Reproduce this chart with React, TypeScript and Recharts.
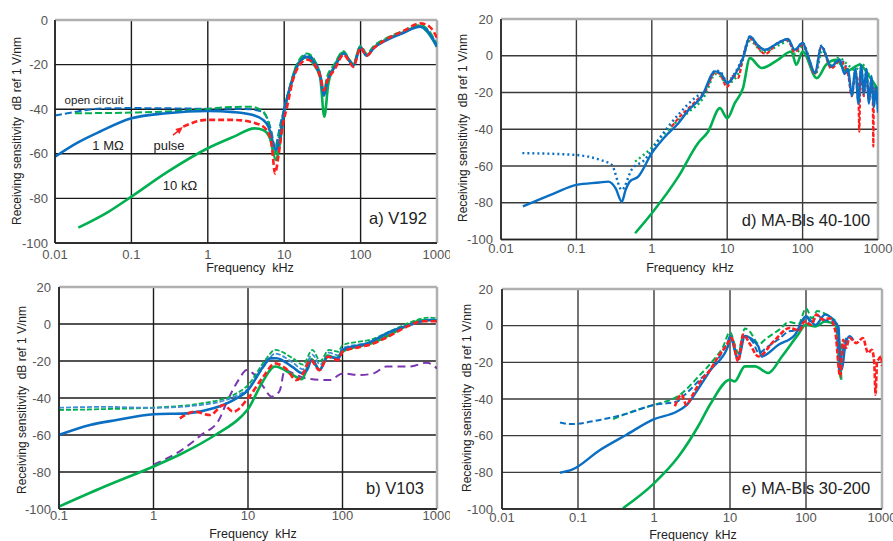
import React from 'react';
import {
  LineChart,
  Line,
  XAxis,
  YAxis,
  CartesianGrid,
  ReferenceLine,
  ReferenceDot,
} from 'recharts';

type Pt = [number, number];

const FONT = '"Liberation Sans", Arial, sans-serif';
const BLUE = '#0a6fc2';
const LIGHT_BLUE = '#3d8fd4';
const GREEN = '#00b050';
const RED = '#ff1f1f';
const PURPLE = '#7a35b0';

// frequency ticks (kHz) and sensitivity ticks (dB)
const X_TICKS_WIDE = [0.01, 0.1, 1, 10, 100, 1000];
const X_TICKS_B = [0.1, 1, 10, 100, 1000];
const Y_TICKS_A = [-100, -80, -60, -40, -20, 0];
const Y_TICKS = [-100, -80, -60, -40, -20, 0, 20];

// ---- a) V192 ----
const aOpenBlue: Pt[] = [
  [0.01, -42.8], [0.02, -41], [0.03, -40], [0.05, -39.6], [0.1, -39.5], [0.3, -39.6],
  [1, -39.8], [2, -39.8], [3.5, -40], [5, -41], [6, -44], [6.8, -50], [7.6, -57.5],
  [8.3, -52], [9, -46], [10, -40], [12, -30], [15, -20], [20, -15.5], [25, -18.5],
  [30, -25], [33, -33], [36, -27], [45, -21], [60, -14.5], [72, -18.5], [80, -20],
  [100, -12], [120, -15.5], [150, -12], [220, -8.5], [360, -5.5], [600, -2.8],
  [750, -4.5], [1000, -11.5],
];
const aOpenGreen: Pt[] = [
  [0.0183, -41.8], [0.05, -41.7], [0.1, -41.5], [0.3, -41], [1, -39.9], [2, -39],
  [3.6, -38.9], [5.3, -41], [6.5, -48.5], [7.6, -60], [8.5, -52], [10, -40], [12, -29],
  [15, -19], [20, -15], [25, -18], [30, -25], [33, -32], [36, -26], [45, -20], [60, -14],
  [72, -18], [80, -19.5], [100, -11.5], [120, -15], [150, -11.5], [220, -8], [360, -5],
  [600, -2.2], [750, -4], [1000, -11],
];
const aOneMeg: Pt[] = [
  [0.01, -61.3], [0.019, -55.3], [0.039, -50], [0.1, -44.1], [0.29, -41.8], [1, -40.8],
  [2.2, -41.3], [3.9, -42.6], [5.3, -44.8], [6.2, -47.8], [7.2, -55.3], [7.8, -58.3],
  [8.7, -53.8], [10, -40.4], [12, -30], [15, -20.5], [20, -16.5], [25, -19.5], [30, -26],
  [33, -34], [37, -27], [46, -21], [60, -15], [72, -18.5], [80, -20.5], [100, -12.5],
  [120, -16], [150, -12.5], [220, -9], [360, -5.8], [600, -3], [750, -5], [1000, -12],
];
const aTenK: Pt[] = [
  [0.0202, -93.1], [0.05, -86], [0.1, -79.2], [0.3, -68], [1, -57.5], [2.2, -52.3],
  [4.1, -48.6], [5.3, -49.3], [6.5, -53], [7.8, -62.8], [8.6, -57], [10, -41], [12, -30],
  [14.6, -20.5], [19.8, -16.7], [24, -19.7], [29.5, -25.6], [33.5, -43.4], [37.8, -28.6],
  [46, -20.5], [59, -14.6], [72, -18.3], [80, -20.5], [98, -12], [120, -16], [149, -12.3],
  [222, -8.6], [360, -5.6], [594, -2.7], [726, -4.9], [1000, -12],
];
const aPulse: Pt[] = [
  [0.477, -47.8], [0.97, -44.8], [2.2, -44.8], [4.4, -46.5], [5.9, -49.3], [6.8, -55],
  [7.6, -68.8], [8.4, -61], [9.5, -47.8], [10.9, -38.9], [13, -27], [16, -20], [20, -17.8],
  [25, -20], [30, -26], [33, -31.6], [37, -27], [46, -22], [60, -15.5], [72, -19],
  [80, -21], [100, -12.5], [120, -16], [150, -12.5], [220, -8.5], [360, -5], [600, -1.5],
  [800, -3], [1000, -8],
];

// ---- d) MA-Bls 40-100 ----
const dOpenBlue: Pt[] = [
  [0.0192, -53], [0.1, -54], [0.2, -56.5], [0.294, -59.4], [0.4, -73], [0.54, -62],
  [0.81, -56.5], [1.22, -45.8], [2.25, -32], [4, -22], [5, -19.5], [7, -8], [8, -8.5],
  [10, -14], [12.6, -9.5], [16, -1], [20, 10.5], [25, 6], [32, 3], [47, 7], [64, 9],
  [78, 2.5], [100, 7], [146, -9.5], [177, 5.5], [240, -6], [310, -2], [400, -9],
  [450, -21], [500, -8], [550, -24], [600, -6], [650, -20], [700, -8], [760, -24],
  [820, -12], [880, -27], [940, -18], [1000, -29],
];
const dOpenGreen: Pt[] = [
  [0.6, -57.6], [1, -50], [1.5, -42], [2.25, -35], [3, -31], [5, -22], [7, -10], [8, -11],
  [10, -15], [14, -10], [20, 8], [30, 2], [50, 6], [65, 8], [80, 1], [100, 5], [150, -10],
  [180, 3], [240, -5], [300, -1], [400, -5], [500, -8], [600, -4], [700, -8], [800, -12],
  [1000, -22],
];
const dBlue: Pt[] = [
  [0.0195, -82], [0.05, -75], [0.1, -70.3], [0.2, -69], [0.265, -68.5], [0.33, -72],
  [0.4, -79.4], [0.45, -73], [0.51, -68.5], [0.66, -65.8], [1, -53], [1.5, -44],
  [2.25, -36.7], [3, -30], [4.6, -22.2], [6.9, -8.5], [8.3, -9.8], [10, -14.9],
  [12.6, -10.4], [16.2, -1.3], [20, 10.5], [25, 6], [31.6, 3.3], [47, 6.9], [64, 9.1],
  [78.5, 3.3], [100, 6.9], [120, -1], [146, -9.4], [177, 5.1], [240, -5.8], [310, -2.2],
  [361, -10], [400, -7], [450, -22], [500, -7], [550, -26], [600, -5], [650, -21],
  [700, -7], [760, -26], [820, -11], [880, -28], [940, -17], [1000, -31],
];
const dRed: Pt[] = [
  [1.84, -38.5], [2.5, -32], [3, -29], [4, -24], [5, -20], [7, -9], [8, -10], [10, -17],
  [12, -11], [14, -12], [16, -2], [20, 9.5], [25, 5], [32, 1], [47, 7], [64, 8.5], [78, 2],
  [100, 6], [146, -10], [177, 5], [240, -7], [310, -3], [400, -10], [450, -22], [500, -9],
  [545, -15], [565, -41.3], [585, -10], [650, -22], [700, -10], [760, -24], [820, -14],
  [850, -20], [867, -49.4], [885, -18], [950, -22], [1000, -27],
];
const dGreen: Pt[] = [
  [0.6, -96.6], [1, -85.7], [2.25, -65.8], [4.1, -47.6], [5.6, -41.2], [8, -28.5],
  [10, -34], [12.6, -25.8], [16.2, -17.6], [20, -1.3], [28.6, -6.7], [47, -2.2], [71, 2.3],
  [82.5, -4.9], [100, 2.3], [154, -12.2], [205, -4.9], [279, -2.2], [381, -8.5],
  [570, -4.9], [770, -11.3], [1000, -18.5],
];

// ---- b) V103 ----
const bOpenGreen: Pt[] = [
  [0.1, -46.5], [0.3, -46], [1, -45.2], [3.1, -43], [7, -38.4], [10, -33], [15.7, -18.6],
  [19.3, -14], [30, -18.6], [38, -22], [48, -14], [58, -20], [72, -14], [90, -15],
  [100, -11.5], [150, -9.5], [200, -8.5], [300, -4.5], [500, 0.5], [700, 3], [850, 3.5],
  [1000, 3],
];
const bOpenBlue: Pt[] = [
  [0.1, -45.3], [0.3, -44.8], [1, -45.3], [3.1, -43.8], [7, -39.5], [10, -35],
  [15.7, -21], [19.3, -16], [30, -21], [38, -24.5], [48, -16.5], [58, -22], [72, -15.5],
  [90, -17], [100, -13], [150, -11], [200, -10], [300, -6], [500, -0.5], [700, 2],
  [1000, 2.5],
];
const bBlue: Pt[] = [
  [0.1, -60], [0.213, -54.6], [0.408, -51.9], [1, -48.8], [2.24, -48.3], [4.3, -45.6],
  [7, -41.1], [10, -35.7], [14.5, -23], [17.1, -18.6], [20, -18.5], [30, -23.5],
  [37, -26.5], [42, -25], [47, -19.5], [52, -22], [57, -24.9], [70, -17.7], [90.5, -18.6],
  [100, -14], [182, -10.5], [320, -4.2], [512, -0.5], [850, 2.2], [1000, 1.5],
];
const bRed: Pt[] = [
  [1.9, -51], [2.75, -47.4], [3.96, -49.2], [5.5, -43.8], [7, -47.4], [10, -40.2],
  [14.5, -28.5], [19.3, -21.3], [25, -24], [32.6, -30.3], [38, -27], [46, -19.5],
  [57, -24.9], [70, -17.7], [90, -19.5], [100, -15], [150, -12.5], [200, -11], [300, -7],
  [500, -1], [700, 1.5], [850, 1.5], [1000, 1.5],
];
const bGreen: Pt[] = [
  [0.1, -98.7], [0.3, -88], [1, -77], [2, -70], [4.5, -60], [8.5, -50], [10, -46],
  [14, -32], [19.3, -23], [30, -27.6], [37, -29.9], [47, -19], [57, -24.9], [70, -17],
  [86, -18.5], [100, -15], [150, -12], [200, -10.5], [300, -6.5], [500, -0.5], [700, 2],
  [1000, 2],
];
const bPurple: Pt[] = [
  [1, -76], [2, -68], [3.2, -60], [4.9, -52], [6, -42], [8, -30], [9.7, -24.9],
  [11.3, -26.7], [14.5, -33.9], [17.8, -39.3], [20, -38], [21.8, -35.7], [24.5, -24.9],
  [32.6, -27.6], [41.8, -29.4], [73.5, -30.3], [100, -26.7], [150, -27.6], [214, -26.7],
  [290, -23], [512, -23], [780, -20.9], [1000, -24],
];

// ---- e) MA-Bls 30-200 ----
const eOpenBlue: Pt[] = [
  [0.058, -52.8], [0.078, -53.7], [0.195, -51.4], [0.43, -48.1], [1, -43.2], [2, -41.4],
  [2.5, -38], [4, -29.5], [6, -22], [8, -14], [9.5, -8], [10, -5.5], [11, -9], [12.8, -18],
  [14, -9], [15.7, -5.5], [20, -9], [24, -15], [30, -12], [45, -7], [60, -3], [80, -2.5],
  [100, 5], [120, 1], [140, 6], [170, 3], [210, 3], [250, -1], [275, -25], [290, -18],
  [320, -10], [350, -6], [400, -7],
];
const eOpenGreen: Pt[] = [
  [0.29, -51], [0.5, -47], [1, -43.2], [2.2, -37.7], [4, -27], [6, -19], [8, -12],
  [10, -3.5], [11.5, -10], [12.8, -15], [15.7, -1.5], [18, -3], [24, -10], [30, -7],
  [45, -2], [60, 2], [80, 1], [100, 9.5], [120, 4], [140, 8], [170, 7], [220, 4], [250, 2],
  [270, -20], [280, -28], [290, -10], [320, -8],
];
const eBlue: Pt[] = [
  [0.058, -80.2], [0.082, -78.7], [0.195, -67.8], [0.43, -59.6], [1, -51], [2, -46.8],
  [2.7, -43.2], [4, -33.2], [5.6, -24], [9.4, -11.3], [10, -5.8], [12.8, -18.6],
  [15.7, -5.8], [23.6, -11.3], [26, -16.8], [43.5, -10.4], [71.6, -4.9], [100, 5.1],
  [133, 0.4], [178, 6], [230, 3], [268, -1], [285, -24], [297, -24], [327, -11.3],
  [375, -5.8], [420, -8],
];
const eRed: Pt[] = [
  [1.88, -44], [2.3, -37.7], [2.67, -43.2], [3.1, -39], [4, -31], [5.5, -24], [7, -17],
  [9.1, -10.4], [10.5, -6.7], [12.8, -19.5], [14.9, -4.9], [18.5, -10.4], [23.6, -16.8],
  [37.5, -8.6], [61, -1.3], [82.5, -2.5], [95.5, 2.3], [117, 0.5], [137, 6], [167, 3.3],
  [204, 4], [241, -2.2], [282, -27.7], [308, -7.7], [335, -12.2], [375, -6.7],
  [458, -9.5], [560, -6.7], [656, -14.9], [734, -13.1], [790, -20], [824, -37.7],
  [860, -20], [892, -18.6], [980, -16.8], [1000, -22],
];
const eGreen: Pt[] = [
  [0.39, -99.6], [1, -86], [2.1, -71.4], [3.8, -55], [5.6, -42.3], [10, -29.5],
  [11.5, -30.4], [15.7, -22.2], [21.4, -22.2], [31.9, -25.8], [48.2, -16.8], [78.6, -4.9],
  [100, 0.5], [133, -0.4], [178, 2.3], [241, 0.5], [268, -5.8], [290, -29.5],
];

type Series = { key: string; pts: Pt[]; color: string; dash?: string; width?: number };

const rows = (pts: Pt[]) => pts.map(([f, v]) => ({ f, v }));

const DASH = '7 3';
const DOT = '2 3';

type PanelProps = {
  left: number;
  top: number;
  width: number;
  height: number;
  margin: { top: number; right: number; bottom: number; left: number };
  yWidth: number;
  xDomain: [number, number];
  xTicks: number[];
  yDomain: [number, number];
  yTicks: number[];
  xTickMargin: number;
  yTickMargin: number;
  grid: string;
  series: Series[];
  children?: React.ReactNode;
};

const Panel = (p: PanelProps) => (
  <div style={{ position: 'absolute', left: p.left, top: p.top }}>
    <LineChart width={p.width} height={p.height} margin={p.margin}>
      <CartesianGrid stroke={p.grid} strokeWidth={1.4} />
      <XAxis
        dataKey="f"
        type="number"
        scale="log"
        domain={p.xDomain}
        ticks={p.xTicks}
        allowDataOverflow
        interval={0}
        height={20}
        tickLine={false}
        tickSize={0}
        tickMargin={p.xTickMargin}
        axisLine={{ stroke: '#222', strokeWidth: 1.5 }}
        tick={{ fill: '#555', fontSize: 13, fontFamily: FONT }}
      />
      <YAxis
        type="number"
        domain={p.yDomain}
        ticks={p.yTicks}
        allowDataOverflow
        interval={0}
        width={p.yWidth}
        tickLine={false}
        tickSize={0}
        tickMargin={p.yTickMargin}
        axisLine={{ stroke: '#222', strokeWidth: 1.5 }}
        tick={{ fill: '#555', fontSize: 13, fontFamily: FONT }}
      />
      <ReferenceLine y={p.yDomain[1]} stroke="#b0b0b0" strokeWidth={2.5} />
      <ReferenceLine x={p.xDomain[1]} stroke="#b0b0b0" strokeWidth={2.5} />
      {p.series.map((s) => (
        <Line
          key={s.key}
          data={rows(s.pts)}
          dataKey="v"
          type="monotone"
          stroke={s.color}
          strokeWidth={s.width ?? 2.4}
          strokeDasharray={s.dash}
          dot={false}
          activeDot={false}
          isAnimationActive={false}
        />
      ))}
      {p.children}
    </LineChart>
  </div>
);

const Txt = ({
  x,
  y,
  size = 13,
  color = '#222',
  rotate = false,
  children,
}: {
  x: number;
  y: number;
  size?: number;
  color?: string;
  rotate?: boolean;
  children: React.ReactNode;
}) => (
  <div
    style={{
      position: 'absolute',
      left: x,
      top: y,
      transform: `translate(-50%, -50%)${rotate ? ' rotate(-90deg)' : ''}`,
      whiteSpace: 'pre',
      fontFamily: FONT,
      fontSize: size,
      color,
      lineHeight: 1,
    }}
  >
    {children}
  </div>
);

// small red arrowhead pointing up-right
const ArrowHead = (props: any) => {
  const { cx, cy } = props;
  const dx = 0.77;
  const dy = -0.64;
  const bx = cx - dx * 7;
  const by = cy - dy * 7;
  const px = -dy * 3.2;
  const py = dx * 3.2;
  return (
    <polygon
      points={`${cx},${cy} ${bx + px},${by + py} ${bx - px},${by - py}`}
      fill={RED}
    />
  );
};

const Y_TITLE = 'Receiving sensitivity  dB ref 1 V/nm';
const X_TITLE = 'Frequency  kHz';

export default function App() {
  return (
    <div
      style={{
        position: 'absolute',
        left: 0,
        top: 0,
        width: 893,
        height: 541,
        background: '#fff',
        overflow: 'hidden',
      }}
    >
      <Panel
        left={0}
        top={0}
        width={450}
        height={270}
        margin={{ top: 20, right: 13, bottom: 7, left: 0 }}
        yWidth={55}
        xDomain={[0.01, 1000]}
        xTicks={X_TICKS_WIDE}
        yDomain={[-100, 0]}
        yTicks={Y_TICKS_A}
        xTickMargin={7}
        yTickMargin={7}
        grid="#1a1a1a"
        series={[
          { key: 'aOpenBlue', pts: aOpenBlue, color: BLUE, dash: DASH, width: 2 },
          { key: 'aOpenGreen', pts: aOpenGreen, color: GREEN, dash: DASH, width: 2 },
          { key: 'aTenK', pts: aTenK, color: GREEN, width: 2.6 },
          { key: 'aOneMeg', pts: aOneMeg, color: BLUE, width: 2.6 },
          { key: 'aPulse', pts: aPulse, color: RED, dash: '6 3', width: 2.6 },
        ]}
      >
        <ReferenceLine
          segment={[
            { x: 0.35, y: -51.6 },
            { x: 0.45, y: -48.7 },
          ]}
          stroke={RED}
          strokeWidth={1.5}
        />
        <ReferenceDot x={0.47} y={-48} r={3} shape={ArrowHead} />
      </Panel>

      <Panel
        left={445}
        top={0}
        width={448}
        height={270}
        margin={{ top: 19, right: 15, bottom: 10.5, left: 0 }}
        yWidth={56}
        xDomain={[0.01, 1000]}
        xTicks={X_TICKS_WIDE}
        yDomain={[-100, 20]}
        yTicks={Y_TICKS}
        xTickMargin={4}
        yTickMargin={8}
        grid="#3a3a3a"
        series={[
          { key: 'dOpenGreen', pts: dOpenGreen, color: GREEN, dash: DOT, width: 2.4 },
          { key: 'dOpenBlue', pts: dOpenBlue, color: BLUE, dash: DOT, width: 2.4 },
          { key: 'dGreen', pts: dGreen, color: GREEN, width: 2.6 },
          { key: 'dRed', pts: dRed, color: RED, dash: '4 2', width: 2.2 },
          { key: 'dBlue', pts: dBlue, color: BLUE, width: 2.4 },
        ]}
      />

      <Panel
        left={0}
        top={270}
        width={450}
        height={271}
        margin={{ top: 17, right: 13, bottom: 12, left: 0 }}
        yWidth={59}
        xDomain={[0.1, 1000]}
        xTicks={X_TICKS_B}
        yDomain={[-100, 20]}
        yTicks={Y_TICKS}
        xTickMargin={2}
        yTickMargin={8}
        grid="#1a1a1a"
        series={[
          { key: 'bPurple', pts: bPurple, color: PURPLE, dash: '8 5', width: 2 },
          { key: 'bOpenGreen', pts: bOpenGreen, color: GREEN, dash: '5 2', width: 1.8 },
          { key: 'bOpenBlue', pts: bOpenBlue, color: LIGHT_BLUE, dash: '5 2', width: 1.8 },
          { key: 'bGreen', pts: bGreen, color: GREEN, width: 2.6 },
          { key: 'bBlue', pts: bBlue, color: BLUE, width: 2.6 },
          { key: 'bRed', pts: bRed, color: RED, dash: '6 3', width: 2.6 },
        ]}
      />

      <Panel
        left={445}
        top={270}
        width={448}
        height={271}
        margin={{ top: 19, right: 11, bottom: 12, left: 0 }}
        yWidth={57}
        xDomain={[0.01, 1000]}
        xTicks={X_TICKS_WIDE}
        yDomain={[-100, 20]}
        yTicks={Y_TICKS}
        xTickMargin={4}
        yTickMargin={9}
        grid="#3a3a3a"
        series={[
          { key: 'eGreen', pts: eGreen, color: GREEN, width: 2.6 },
          { key: 'eOpenGreen', pts: eOpenGreen, color: GREEN, dash: '6 3', width: 2 },
          { key: 'eOpenBlue', pts: eOpenBlue, color: BLUE, dash: '6 3', width: 2 },
          { key: 'eBlue', pts: eBlue, color: BLUE, width: 2.4 },
          { key: 'eRed', pts: eRed, color: RED, dash: '5 2', width: 2.6 },
        ]}
      />

      {/* axis titles */}
      <Txt x={17} y={131} size={12} rotate>{Y_TITLE}</Txt>
      <Txt x={463} y={128} size={12} rotate>{Y_TITLE}</Txt>
      <Txt x={22} y={400} size={12} rotate>{Y_TITLE}</Txt>
      <Txt x={467} y={398} size={12} rotate>{Y_TITLE}</Txt>
      <Txt x={250} y={268} size={12.5}>{X_TITLE}</Txt>
      <Txt x={690} y={268} size={12.5}>{X_TITLE}</Txt>
      <Txt x={253} y={534} size={12.5}>{X_TITLE}</Txt>
      <Txt x={693} y={535} size={12.5}>{X_TITLE}</Txt>

      {/* panel a annotations */}
      <Txt x={94} y={101} size={11.5}>open circuit</Txt>
      <Txt x={108} y={145} size={13}>1 MΩ</Txt>
      <Txt x={169} y={145} size={13}>pulse</Txt>
      <Txt x={180} y={185} size={13}>10 kΩ</Txt>

      {/* panel captions */}
      <Txt x={398} y={218} size={16.5}>a) V192</Txt>
      <Txt x={806} y={220} size={16.5}>d) MA-Bls 40-100</Txt>
      <Txt x={395} y={488} size={16.5}>b) V103</Txt>
      <Txt x={806} y={488} size={16.5}>e) MA-Bls 30-200</Txt>
    </div>
  );
}
